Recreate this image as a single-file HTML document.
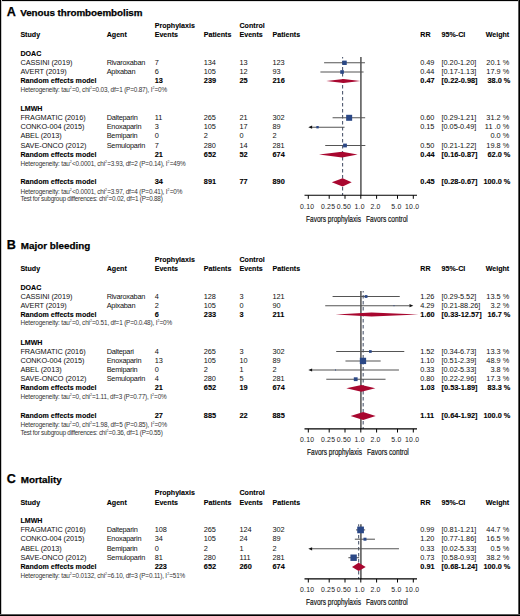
<!DOCTYPE html>
<html><head><meta charset="utf-8"><style>
html,body{margin:0;padding:0;background:#fff;}
body{width:520px;height:616px;position:relative;overflow:hidden;font-family:"Liberation Sans",sans-serif;color:#000;}
.t{position:absolute;white-space:nowrap;line-height:1;}
.r{letter-spacing:-0.05px;}
.t sup{font-size:0.55em;vertical-align:0;position:relative;top:-0.95em;line-height:0;margin:0 0.3px 0 0.2px;}
#b{position:absolute;left:0;top:0;width:520px;height:616px;box-sizing:border-box;border:1px solid #000;border-right-width:2px;border-bottom-width:2px;}
svg{position:absolute;left:0;top:0;}
</style></head><body>
<div style="position:absolute;left:0;top:0;width:520px;height:1px;background:#000"></div>
<div style="position:absolute;left:0;top:1px;width:520px;height:1px;background:#e2e2e2"></div>
<div style="position:absolute;left:0;top:0;width:1px;height:616px;background:#000"></div>
<div style="position:absolute;left:1px;top:0;width:1px;height:616px;background:#c8c8c8"></div>
<div style="position:absolute;left:519px;top:0;width:1px;height:616px;background:#000"></div>
<div style="position:absolute;left:518px;top:0;width:1px;height:616px;background:#5a5a5a"></div>
<div style="position:absolute;left:0;top:615px;width:520px;height:1px;background:#000"></div>
<div style="position:absolute;left:0;top:614px;width:520px;height:1px;background:#5a5a5a"></div>
<svg width="520" height="616" viewBox="0 0 520 616">
<line x1="360.9" y1="57.1" x2="360.9" y2="195.2" stroke="#5c5c5c" stroke-width="1.6"/>
<line x1="342.59" y1="57.1" x2="342.59" y2="195.2" stroke="#4f5a70" stroke-width="1.1" stroke-dasharray="3.4 2.6" stroke-dashoffset="2"/>
<line x1="324.10" y1="62.80" x2="364.96" y2="62.80" stroke="#555" stroke-width="1.05"/>
<rect x="342.34" y="60.60" width="4.4" height="4.4" fill="#2b4886"/>
<line x1="320.40" y1="72.00" x2="363.59" y2="72.00" stroke="#555" stroke-width="1.05"/>
<rect x="340.28" y="70.20" width="3.6" height="3.6" fill="#2b4886"/>
<polygon points="326.28,80.90 343.59,78.90 360.34,80.90 343.59,82.90" fill="#a8072f"/>
<line x1="332.58" y1="117.80" x2="365.15" y2="117.80" stroke="#555" stroke-width="1.05"/>
<rect x="346.15" y="114.80" width="6.0" height="6.0" fill="#2b4886"/>
<line x1="311.90" y1="127.20" x2="344.54" y2="127.20" stroke="#555" stroke-width="1.05"/>
<polygon points="308.30,127.20 312.10,125.60 312.10,128.80" fill="#111"/>
<rect x="316.34" y="126.00" width="2.4" height="2.4" fill="#2b4886"/>
<line x1="325.22" y1="145.50" x2="365.33" y2="145.50" stroke="#555" stroke-width="1.05"/>
<rect x="343.10" y="143.60" width="3.8" height="3.8" fill="#2b4886"/>
<polygon points="319.02,154.60 342.08,151.70 357.62,154.60 342.08,157.50" fill="#a8072f"/>
<polygon points="331.78,182.30 342.59,178.20 351.67,182.30 342.59,186.40" fill="#a8072f"/>
<line x1="304.5" y1="195.2" x2="417" y2="195.2" stroke="#000" stroke-width="1.1"/>
<line x1="308.30" y1="195.2" x2="308.30" y2="198.79999999999998" stroke="#000" stroke-width="1"/>
<line x1="329.19" y1="195.2" x2="329.19" y2="198.79999999999998" stroke="#000" stroke-width="1"/>
<line x1="345.00" y1="195.2" x2="345.00" y2="198.79999999999998" stroke="#000" stroke-width="1"/>
<line x1="360.80" y1="195.2" x2="360.80" y2="198.79999999999998" stroke="#000" stroke-width="1"/>
<line x1="376.60" y1="195.2" x2="376.60" y2="198.79999999999998" stroke="#000" stroke-width="1"/>
<line x1="397.50" y1="195.2" x2="397.50" y2="198.79999999999998" stroke="#000" stroke-width="1"/>
<line x1="413.30" y1="195.2" x2="413.30" y2="198.79999999999998" stroke="#000" stroke-width="1"/>
<line x1="360.9" y1="291.0" x2="360.9" y2="428.9" stroke="#5c5c5c" stroke-width="1.6"/>
<line x1="363.18" y1="291.0" x2="363.18" y2="428.9" stroke="#4f5a70" stroke-width="1.1" stroke-dasharray="3.4 2.6" stroke-dashoffset="1.9"/>
<line x1="332.58" y1="296.50" x2="399.75" y2="296.50" stroke="#555" stroke-width="1.05"/>
<rect x="364.67" y="295.10" width="2.8" height="2.8" fill="#2b4886"/>
<line x1="325.22" y1="305.70" x2="409.70" y2="305.70" stroke="#555" stroke-width="1.05"/>
<polygon points="413.30,305.70 409.50,304.10 409.50,307.30" fill="#111"/>
<rect x="393.50" y="305.20" width="1.0" height="1.0" fill="#2b4886"/>
<polygon points="335.52,314.60 371.52,312.60 418.52,314.60 371.52,316.60" fill="#a8072f"/>
<line x1="336.20" y1="351.50" x2="404.27" y2="351.50" stroke="#555" stroke-width="1.05"/>
<rect x="369.00" y="350.15" width="2.7" height="2.7" fill="#2b4886"/>
<line x1="345.45" y1="360.90" x2="380.67" y2="360.90" stroke="#555" stroke-width="1.05"/>
<rect x="359.82" y="357.75" width="6.3" height="6.3" fill="#2b4886"/>
<line x1="311.90" y1="370.00" x2="398.95" y2="370.00" stroke="#555" stroke-width="1.05"/>
<polygon points="308.30,370.00 312.10,368.40 312.10,371.60" fill="#111"/>
<rect x="335.02" y="369.50" width="1.0" height="1.0" fill="#2b4886"/>
<line x1="326.28" y1="379.20" x2="385.54" y2="379.20" stroke="#555" stroke-width="1.05"/>
<rect x="353.81" y="377.30" width="3.8" height="3.8" fill="#2b4886"/>
<polygon points="346.32,388.30 361.47,384.95 375.31,388.30 361.47,391.65" fill="#a8072f"/>
<polygon points="350.62,416.00 363.18,412.00 375.67,416.00 363.18,420.00" fill="#a8072f"/>
<line x1="304.5" y1="428.9" x2="417" y2="428.9" stroke="#000" stroke-width="1.1"/>
<line x1="308.30" y1="428.9" x2="308.30" y2="432.5" stroke="#000" stroke-width="1"/>
<line x1="329.19" y1="428.9" x2="329.19" y2="432.5" stroke="#000" stroke-width="1"/>
<line x1="345.00" y1="428.9" x2="345.00" y2="432.5" stroke="#000" stroke-width="1"/>
<line x1="360.80" y1="428.9" x2="360.80" y2="432.5" stroke="#000" stroke-width="1"/>
<line x1="376.60" y1="428.9" x2="376.60" y2="432.5" stroke="#000" stroke-width="1"/>
<line x1="397.50" y1="428.9" x2="397.50" y2="432.5" stroke="#000" stroke-width="1"/>
<line x1="413.30" y1="428.9" x2="413.30" y2="432.5" stroke="#000" stroke-width="1"/>
<line x1="360.9" y1="524.3" x2="360.9" y2="578.9" stroke="#5c5c5c" stroke-width="1.6"/>
<line x1="358.65" y1="524.3" x2="358.65" y2="578.9" stroke="#4f5a70" stroke-width="1.1" stroke-dasharray="3.4 2.6" stroke-dashoffset="1.3"/>
<line x1="356.00" y1="529.90" x2="365.15" y2="529.90" stroke="#555" stroke-width="1.05"/>
<rect x="357.22" y="526.55" width="6.7" height="6.7" fill="#2b4886"/>
<line x1="354.84" y1="539.20" x2="374.95" y2="539.20" stroke="#555" stroke-width="1.05"/>
<rect x="363.46" y="537.70" width="3.0" height="3.0" fill="#2b4886"/>
<line x1="311.90" y1="548.80" x2="398.95" y2="548.80" stroke="#555" stroke-width="1.05"/>
<polygon points="308.30,548.80 312.10,547.20 312.10,550.40" fill="#111"/>
<line x1="348.38" y1="557.70" x2="359.15" y2="557.70" stroke="#555" stroke-width="1.05"/>
<rect x="350.42" y="554.50" width="6.4" height="6.4" fill="#2b4886"/>
<polygon points="352.01,566.90 358.65,562.75 365.70,566.90 358.65,571.05" fill="#a8072f"/>
<line x1="304.5" y1="578.9" x2="417" y2="578.9" stroke="#000" stroke-width="1.1"/>
<line x1="308.30" y1="578.9" x2="308.30" y2="582.5" stroke="#000" stroke-width="1"/>
<line x1="329.19" y1="578.9" x2="329.19" y2="582.5" stroke="#000" stroke-width="1"/>
<line x1="345.00" y1="578.9" x2="345.00" y2="582.5" stroke="#000" stroke-width="1"/>
<line x1="360.80" y1="578.9" x2="360.80" y2="582.5" stroke="#000" stroke-width="1"/>
<line x1="376.60" y1="578.9" x2="376.60" y2="582.5" stroke="#000" stroke-width="1"/>
<line x1="397.50" y1="578.9" x2="397.50" y2="582.5" stroke="#000" stroke-width="1"/>
<line x1="413.30" y1="578.9" x2="413.30" y2="582.5" stroke="#000" stroke-width="1"/>
</svg>
<div class="t" style="top:6.00px;font-size:12.6px;font-weight:bold;-webkit-text-stroke:0.25px currentColor;left:6.80px;">A</div>
<div class="t" style="top:8.00px;font-size:9.85px;font-weight:bold;-webkit-text-stroke:0.25px currentColor;left:20.20px;letter-spacing:-0.06px;">Venous thromboembolism</div>
<div class="t" style="top:23.00px;font-size:7.1px;font-weight:bold;-webkit-text-stroke:0.1px currentColor;left:154.70px;">Prophylaxis</div>
<div class="t" style="top:23.00px;font-size:7.1px;font-weight:bold;-webkit-text-stroke:0.1px currentColor;left:239.50px;">Control</div>
<div class="t" style="top:32.00px;font-size:7.1px;font-weight:bold;-webkit-text-stroke:0.1px currentColor;left:20.40px;">Study</div>
<div class="t" style="top:32.00px;font-size:7.1px;font-weight:bold;-webkit-text-stroke:0.1px currentColor;left:106.70px;">Agent</div>
<div class="t" style="top:32.00px;font-size:7.1px;font-weight:bold;-webkit-text-stroke:0.1px currentColor;left:154.70px;">Events</div>
<div class="t" style="top:32.00px;font-size:7.1px;font-weight:bold;-webkit-text-stroke:0.1px currentColor;left:203.80px;">Patients</div>
<div class="t" style="top:32.00px;font-size:7.1px;font-weight:bold;-webkit-text-stroke:0.1px currentColor;left:239.50px;">Events</div>
<div class="t" style="top:32.00px;font-size:7.1px;font-weight:bold;-webkit-text-stroke:0.1px currentColor;left:272.50px;">Patients</div>
<div class="t" style="top:32.00px;font-size:7.1px;font-weight:bold;-webkit-text-stroke:0.1px currentColor;left:420.30px;">RR</div>
<div class="t" style="top:32.00px;font-size:7.1px;font-weight:bold;-webkit-text-stroke:0.1px currentColor;left:441.60px;">95%-CI</div>
<div class="t" style="top:32.00px;font-size:7.1px;font-weight:bold;-webkit-text-stroke:0.1px currentColor;right:10.80px;">Weight</div>
<div class="t" style="top:51.00px;font-size:7.1px;font-weight:bold;-webkit-text-stroke:0.1px currentColor;left:20.40px;">DOAC</div>
<div class="t" style="top:59.00px;font-size:7.35px;color:#111;left:20.40px;letter-spacing:-0.05px;">CASSINI (2019)</div>
<div class="t" style="top:59.00px;font-size:7.35px;color:#111;left:106.70px;letter-spacing:-0.26px;">Rivaroxaban</div>
<div class="t" style="top:59.00px;font-size:7.35px;color:#111;left:154.70px;letter-spacing:-0.05px;">7</div>
<div class="t" style="top:59.00px;font-size:7.35px;color:#111;left:203.80px;letter-spacing:-0.05px;">134</div>
<div class="t" style="top:59.00px;font-size:7.35px;color:#111;left:239.50px;letter-spacing:-0.05px;">13</div>
<div class="t" style="top:59.00px;font-size:7.35px;color:#111;left:272.50px;letter-spacing:-0.05px;">123</div>
<div class="t" style="top:59.00px;font-size:7.35px;color:#111;left:420.30px;letter-spacing:-0.05px;">0.49</div>
<div class="t" style="top:59.00px;font-size:7.35px;color:#111;left:441.60px;letter-spacing:-0.05px;">[0.20-1.20]</div>
<div class="t" style="top:59.00px;font-size:7.35px;color:#111;right:10.80px;">20.1 %</div>
<div class="t" style="top:68.00px;font-size:7.35px;color:#111;left:20.40px;letter-spacing:-0.05px;">AVERT (2019)</div>
<div class="t" style="top:68.00px;font-size:7.35px;color:#111;left:106.70px;letter-spacing:-0.26px;">Apixaban</div>
<div class="t" style="top:68.00px;font-size:7.35px;color:#111;left:154.70px;letter-spacing:-0.05px;">6</div>
<div class="t" style="top:68.00px;font-size:7.35px;color:#111;left:203.80px;letter-spacing:-0.05px;">105</div>
<div class="t" style="top:68.00px;font-size:7.35px;color:#111;left:239.50px;letter-spacing:-0.05px;">12</div>
<div class="t" style="top:68.00px;font-size:7.35px;color:#111;left:272.50px;letter-spacing:-0.05px;">93</div>
<div class="t" style="top:68.00px;font-size:7.35px;color:#111;left:420.30px;letter-spacing:-0.05px;">0.44</div>
<div class="t" style="top:68.00px;font-size:7.35px;color:#111;left:441.60px;letter-spacing:-0.05px;">[0.17-1.13]</div>
<div class="t" style="top:68.00px;font-size:7.35px;color:#111;right:10.80px;">17.9 %</div>
<div class="t" style="top:78.00px;font-size:7.1px;font-weight:bold;-webkit-text-stroke:0.1px currentColor;left:20.40px;">Random effects model</div>
<div class="t" style="top:77.00px;font-size:7.35px;font-weight:bold;-webkit-text-stroke:0.1px currentColor;left:154.70px;">13</div>
<div class="t" style="top:77.00px;font-size:7.35px;font-weight:bold;-webkit-text-stroke:0.1px currentColor;left:203.80px;">239</div>
<div class="t" style="top:77.00px;font-size:7.35px;font-weight:bold;-webkit-text-stroke:0.1px currentColor;left:239.50px;">25</div>
<div class="t" style="top:77.00px;font-size:7.35px;font-weight:bold;-webkit-text-stroke:0.1px currentColor;left:272.50px;">216</div>
<div class="t" style="top:77.00px;font-size:7.35px;font-weight:bold;-webkit-text-stroke:0.1px currentColor;left:420.30px;">0.47</div>
<div class="t" style="top:77.00px;font-size:7.35px;font-weight:bold;-webkit-text-stroke:0.1px currentColor;left:441.60px;">[0.22-0.98]</div>
<div class="t" style="top:77.00px;font-size:7.35px;font-weight:bold;-webkit-text-stroke:0.1px currentColor;right:9.60px;">38.0 %</div>
<div class="t" style="top:87.00px;font-size:6.4px;color:#333;left:20.50px;letter-spacing:-0.17px;">Heterogeneity: tau<sup>2</sup>=0, chi<sup>2</sup>=0.03, df=1 (P=0.87), I<sup>2</sup>=0%</div>
<div class="t" style="top:106.00px;font-size:7.1px;font-weight:bold;-webkit-text-stroke:0.1px currentColor;left:20.40px;">LMWH</div>
<div class="t" style="top:114.00px;font-size:7.35px;color:#111;left:20.40px;letter-spacing:-0.05px;">FRAGMATIC (2016)</div>
<div class="t" style="top:114.00px;font-size:7.35px;color:#111;left:106.70px;letter-spacing:-0.26px;">Dalteparin</div>
<div class="t" style="top:114.00px;font-size:7.35px;color:#111;left:154.70px;letter-spacing:-0.05px;">11</div>
<div class="t" style="top:114.00px;font-size:7.35px;color:#111;left:203.80px;letter-spacing:-0.05px;">265</div>
<div class="t" style="top:114.00px;font-size:7.35px;color:#111;left:239.50px;letter-spacing:-0.05px;">21</div>
<div class="t" style="top:114.00px;font-size:7.35px;color:#111;left:272.50px;letter-spacing:-0.05px;">302</div>
<div class="t" style="top:114.00px;font-size:7.35px;color:#111;left:420.30px;letter-spacing:-0.05px;">0.60</div>
<div class="t" style="top:114.00px;font-size:7.35px;color:#111;left:441.60px;letter-spacing:-0.05px;">[0.29-1.21]</div>
<div class="t" style="top:114.00px;font-size:7.35px;color:#111;right:10.80px;">31.2 %</div>
<div class="t" style="top:123.00px;font-size:7.35px;color:#111;left:20.40px;letter-spacing:-0.05px;">CONKO-004 (2015)</div>
<div class="t" style="top:123.00px;font-size:7.35px;color:#111;left:106.70px;letter-spacing:-0.26px;">Enoxaparin</div>
<div class="t" style="top:123.00px;font-size:7.35px;color:#111;left:154.70px;letter-spacing:-0.05px;">3</div>
<div class="t" style="top:123.00px;font-size:7.35px;color:#111;left:203.80px;letter-spacing:-0.05px;">105</div>
<div class="t" style="top:123.00px;font-size:7.35px;color:#111;left:239.50px;letter-spacing:-0.05px;">17</div>
<div class="t" style="top:123.00px;font-size:7.35px;color:#111;left:272.50px;letter-spacing:-0.05px;">89</div>
<div class="t" style="top:123.00px;font-size:7.35px;color:#111;left:420.30px;letter-spacing:-0.05px;">0.15</div>
<div class="t" style="top:123.00px;font-size:7.35px;color:#111;left:441.60px;letter-spacing:-0.05px;">[0.05-0.49]</div>
<div class="t" style="top:123.00px;font-size:7.35px;color:#111;right:10.80px;">11 .0 %</div>
<div class="t" style="top:132.00px;font-size:7.35px;color:#111;left:20.40px;letter-spacing:-0.05px;">ABEL (2013)</div>
<div class="t" style="top:132.00px;font-size:7.35px;color:#111;left:106.70px;letter-spacing:-0.26px;">Bemiparin</div>
<div class="t" style="top:132.00px;font-size:7.35px;color:#111;left:154.70px;letter-spacing:-0.05px;">0</div>
<div class="t" style="top:132.00px;font-size:7.35px;color:#111;left:203.80px;letter-spacing:-0.05px;">2</div>
<div class="t" style="top:132.00px;font-size:7.35px;color:#111;left:239.50px;letter-spacing:-0.05px;">0</div>
<div class="t" style="top:132.00px;font-size:7.35px;color:#111;left:272.50px;letter-spacing:-0.05px;">2</div>
<div class="t" style="top:132.00px;font-size:7.35px;color:#111;right:10.80px;">0.0 %</div>
<div class="t" style="top:142.00px;font-size:7.35px;color:#111;left:20.40px;letter-spacing:-0.05px;">SAVE-ONCO (2012)</div>
<div class="t" style="top:142.00px;font-size:7.35px;color:#111;left:106.70px;letter-spacing:-0.26px;">Semuloparin</div>
<div class="t" style="top:142.00px;font-size:7.35px;color:#111;left:154.70px;letter-spacing:-0.05px;">7</div>
<div class="t" style="top:142.00px;font-size:7.35px;color:#111;left:203.80px;letter-spacing:-0.05px;">280</div>
<div class="t" style="top:142.00px;font-size:7.35px;color:#111;left:239.50px;letter-spacing:-0.05px;">14</div>
<div class="t" style="top:142.00px;font-size:7.35px;color:#111;left:272.50px;letter-spacing:-0.05px;">281</div>
<div class="t" style="top:142.00px;font-size:7.35px;color:#111;left:420.30px;letter-spacing:-0.05px;">0.50</div>
<div class="t" style="top:142.00px;font-size:7.35px;color:#111;left:441.60px;letter-spacing:-0.05px;">[0.21-1.22]</div>
<div class="t" style="top:142.00px;font-size:7.35px;color:#111;right:10.80px;">19.8 %</div>
<div class="t" style="top:152.00px;font-size:7.1px;font-weight:bold;-webkit-text-stroke:0.1px currentColor;left:20.40px;">Random effects model</div>
<div class="t" style="top:151.00px;font-size:7.35px;font-weight:bold;-webkit-text-stroke:0.1px currentColor;left:154.70px;">21</div>
<div class="t" style="top:151.00px;font-size:7.35px;font-weight:bold;-webkit-text-stroke:0.1px currentColor;left:203.80px;">652</div>
<div class="t" style="top:151.00px;font-size:7.35px;font-weight:bold;-webkit-text-stroke:0.1px currentColor;left:239.50px;">52</div>
<div class="t" style="top:151.00px;font-size:7.35px;font-weight:bold;-webkit-text-stroke:0.1px currentColor;left:272.50px;">674</div>
<div class="t" style="top:151.00px;font-size:7.35px;font-weight:bold;-webkit-text-stroke:0.1px currentColor;left:420.30px;">0.44</div>
<div class="t" style="top:151.00px;font-size:7.35px;font-weight:bold;-webkit-text-stroke:0.1px currentColor;left:441.60px;">[0.16-0.87]</div>
<div class="t" style="top:151.00px;font-size:7.35px;font-weight:bold;-webkit-text-stroke:0.1px currentColor;right:9.60px;">62.0 %</div>
<div class="t" style="top:161.00px;font-size:6.4px;color:#333;left:20.50px;letter-spacing:-0.17px;">Heterogeneity: tau<sup>2</sup>&lt;0.0001, chi<sup>2</sup>=3.93, df=2 (P=0.14), I<sup>2</sup>=49%</div>
<div class="t" style="top:179.00px;font-size:7.1px;font-weight:bold;-webkit-text-stroke:0.1px currentColor;left:20.40px;">Random effects model</div>
<div class="t" style="top:178.00px;font-size:7.35px;font-weight:bold;-webkit-text-stroke:0.1px currentColor;left:154.70px;">34</div>
<div class="t" style="top:178.00px;font-size:7.35px;font-weight:bold;-webkit-text-stroke:0.1px currentColor;left:203.80px;">891</div>
<div class="t" style="top:178.00px;font-size:7.35px;font-weight:bold;-webkit-text-stroke:0.1px currentColor;left:239.50px;">77</div>
<div class="t" style="top:178.00px;font-size:7.35px;font-weight:bold;-webkit-text-stroke:0.1px currentColor;left:272.50px;">890</div>
<div class="t" style="top:178.00px;font-size:7.35px;font-weight:bold;-webkit-text-stroke:0.1px currentColor;left:420.30px;">0.45</div>
<div class="t" style="top:178.00px;font-size:7.35px;font-weight:bold;-webkit-text-stroke:0.1px currentColor;left:441.60px;">[0.28-0.67]</div>
<div class="t" style="top:178.00px;font-size:7.35px;font-weight:bold;-webkit-text-stroke:0.1px currentColor;right:9.60px;">100.0 %</div>
<div class="t" style="top:189.00px;font-size:6.4px;color:#333;left:20.50px;letter-spacing:-0.17px;">Heterogeneity: tau<sup>2</sup>&lt;0.0001, chi<sup>2</sup>=3.97, df=4 (P=0.41), I<sup>2</sup>=0%</div>
<div class="t" style="top:196.00px;font-size:6.4px;color:#333;left:20.50px;letter-spacing:-0.24px;">Test for subgroup differences: chi<sup>2</sup>=0.02, df=1 (P=0.88)</div>
<div class="t" style="top:204.00px;font-size:6.9px;color:#1a1a1a;left:307.20px;transform:translateX(-50%);letter-spacing:0.22px;">0.10</div>
<div class="t" style="top:204.00px;font-size:6.9px;color:#1a1a1a;left:328.09px;transform:translateX(-50%);letter-spacing:0.22px;">0.25</div>
<div class="t" style="top:204.00px;font-size:6.9px;color:#1a1a1a;left:343.90px;transform:translateX(-50%);letter-spacing:0.22px;">0.50</div>
<div class="t" style="top:204.00px;font-size:6.9px;color:#1a1a1a;left:359.70px;transform:translateX(-50%);letter-spacing:0.22px;">1.0</div>
<div class="t" style="top:204.00px;font-size:6.9px;color:#1a1a1a;left:375.50px;transform:translateX(-50%);letter-spacing:0.22px;">2.0</div>
<div class="t" style="top:204.00px;font-size:6.9px;color:#1a1a1a;left:396.40px;transform:translateX(-50%);letter-spacing:0.22px;">5.0</div>
<div class="t" style="top:204.00px;font-size:6.9px;color:#1a1a1a;left:412.20px;transform:translateX(-50%);letter-spacing:0.22px;">10.0</div>
<div class="t" style="top:214.00px;font-size:9.5px;color:#111;left:306.10px;transform-origin:0 0;transform:scaleX(0.69);-webkit-text-stroke:0.2px #111;">Favors prophylaxis</div>
<div class="t" style="top:214.00px;font-size:9.5px;color:#111;left:365.50px;transform-origin:0 0;transform:scaleX(0.695);-webkit-text-stroke:0.2px #111;">Favors control</div>
<div class="t" style="top:239.00px;font-size:12.6px;font-weight:bold;-webkit-text-stroke:0.25px currentColor;left:6.80px;">B</div>
<div class="t" style="top:241.00px;font-size:9.85px;font-weight:bold;-webkit-text-stroke:0.25px currentColor;left:20.80px;">Major bleeding</div>
<div class="t" style="top:257.00px;font-size:7.1px;font-weight:bold;-webkit-text-stroke:0.1px currentColor;left:154.70px;">Prophylaxis</div>
<div class="t" style="top:257.00px;font-size:7.1px;font-weight:bold;-webkit-text-stroke:0.1px currentColor;left:239.50px;">Control</div>
<div class="t" style="top:266.00px;font-size:7.1px;font-weight:bold;-webkit-text-stroke:0.1px currentColor;left:20.40px;">Study</div>
<div class="t" style="top:266.00px;font-size:7.1px;font-weight:bold;-webkit-text-stroke:0.1px currentColor;left:106.70px;">Agent</div>
<div class="t" style="top:266.00px;font-size:7.1px;font-weight:bold;-webkit-text-stroke:0.1px currentColor;left:154.70px;">Events</div>
<div class="t" style="top:266.00px;font-size:7.1px;font-weight:bold;-webkit-text-stroke:0.1px currentColor;left:203.80px;">Patients</div>
<div class="t" style="top:266.00px;font-size:7.1px;font-weight:bold;-webkit-text-stroke:0.1px currentColor;left:239.50px;">Events</div>
<div class="t" style="top:266.00px;font-size:7.1px;font-weight:bold;-webkit-text-stroke:0.1px currentColor;left:272.50px;">Patients</div>
<div class="t" style="top:266.00px;font-size:7.1px;font-weight:bold;-webkit-text-stroke:0.1px currentColor;left:420.30px;">RR</div>
<div class="t" style="top:266.00px;font-size:7.1px;font-weight:bold;-webkit-text-stroke:0.1px currentColor;left:441.60px;">95%-CI</div>
<div class="t" style="top:266.00px;font-size:7.1px;font-weight:bold;-webkit-text-stroke:0.1px currentColor;right:10.80px;">Weight</div>
<div class="t" style="top:285.00px;font-size:7.1px;font-weight:bold;-webkit-text-stroke:0.1px currentColor;left:20.40px;">DOAC</div>
<div class="t" style="top:293.00px;font-size:7.35px;color:#111;left:20.40px;letter-spacing:-0.05px;">CASSINI (2019)</div>
<div class="t" style="top:293.00px;font-size:7.35px;color:#111;left:106.70px;letter-spacing:-0.26px;">Rivaroxaban</div>
<div class="t" style="top:293.00px;font-size:7.35px;color:#111;left:154.70px;letter-spacing:-0.05px;">4</div>
<div class="t" style="top:293.00px;font-size:7.35px;color:#111;left:203.80px;letter-spacing:-0.05px;">128</div>
<div class="t" style="top:293.00px;font-size:7.35px;color:#111;left:239.50px;letter-spacing:-0.05px;">3</div>
<div class="t" style="top:293.00px;font-size:7.35px;color:#111;left:272.50px;letter-spacing:-0.05px;">121</div>
<div class="t" style="top:293.00px;font-size:7.35px;color:#111;left:420.30px;letter-spacing:-0.05px;">1.26</div>
<div class="t" style="top:293.00px;font-size:7.35px;color:#111;left:441.60px;letter-spacing:-0.05px;">[0.29-5.52]</div>
<div class="t" style="top:293.00px;font-size:7.35px;color:#111;right:10.80px;">13.5 %</div>
<div class="t" style="top:302.00px;font-size:7.35px;color:#111;left:20.40px;letter-spacing:-0.05px;">AVERT (2019)</div>
<div class="t" style="top:302.00px;font-size:7.35px;color:#111;left:106.70px;letter-spacing:-0.26px;">Apixaban</div>
<div class="t" style="top:302.00px;font-size:7.35px;color:#111;left:154.70px;letter-spacing:-0.05px;">2</div>
<div class="t" style="top:302.00px;font-size:7.35px;color:#111;left:203.80px;letter-spacing:-0.05px;">105</div>
<div class="t" style="top:302.00px;font-size:7.35px;color:#111;left:239.50px;letter-spacing:-0.05px;">0</div>
<div class="t" style="top:302.00px;font-size:7.35px;color:#111;left:272.50px;letter-spacing:-0.05px;">90</div>
<div class="t" style="top:302.00px;font-size:7.35px;color:#111;left:420.30px;letter-spacing:-0.05px;">4.29</div>
<div class="t" style="top:302.00px;font-size:7.35px;color:#111;left:441.60px;letter-spacing:-0.05px;">[0.21-88.26]</div>
<div class="t" style="top:302.00px;font-size:7.35px;color:#111;right:10.80px;">3.2 %</div>
<div class="t" style="top:312.00px;font-size:7.1px;font-weight:bold;-webkit-text-stroke:0.1px currentColor;left:20.40px;">Random effects model</div>
<div class="t" style="top:311.00px;font-size:7.35px;font-weight:bold;-webkit-text-stroke:0.1px currentColor;left:154.70px;">6</div>
<div class="t" style="top:311.00px;font-size:7.35px;font-weight:bold;-webkit-text-stroke:0.1px currentColor;left:203.80px;">233</div>
<div class="t" style="top:311.00px;font-size:7.35px;font-weight:bold;-webkit-text-stroke:0.1px currentColor;left:239.50px;">3</div>
<div class="t" style="top:311.00px;font-size:7.35px;font-weight:bold;-webkit-text-stroke:0.1px currentColor;left:272.50px;">211</div>
<div class="t" style="top:311.00px;font-size:7.35px;font-weight:bold;-webkit-text-stroke:0.1px currentColor;left:420.30px;">1.60</div>
<div class="t" style="top:311.00px;font-size:7.35px;font-weight:bold;-webkit-text-stroke:0.1px currentColor;left:441.60px;">[0.33-12.57]</div>
<div class="t" style="top:311.00px;font-size:7.35px;font-weight:bold;-webkit-text-stroke:0.1px currentColor;right:9.60px;">16.7 %</div>
<div class="t" style="top:320.00px;font-size:6.4px;color:#333;left:20.50px;letter-spacing:-0.17px;">Heterogeneity: tau<sup>2</sup>=0, chi<sup>2</sup>=0.51, df=1 (P=0.0.48), I<sup>2</sup>=0%</div>
<div class="t" style="top:340.00px;font-size:7.1px;font-weight:bold;-webkit-text-stroke:0.1px currentColor;left:20.40px;">LMWH</div>
<div class="t" style="top:348.00px;font-size:7.35px;color:#111;left:20.40px;letter-spacing:-0.05px;">FRAGMATIC (2016)</div>
<div class="t" style="top:348.00px;font-size:7.35px;color:#111;left:106.70px;letter-spacing:-0.26px;">Daltepari</div>
<div class="t" style="top:348.00px;font-size:7.35px;color:#111;left:154.70px;letter-spacing:-0.05px;">4</div>
<div class="t" style="top:348.00px;font-size:7.35px;color:#111;left:203.80px;letter-spacing:-0.05px;">265</div>
<div class="t" style="top:348.00px;font-size:7.35px;color:#111;left:239.50px;letter-spacing:-0.05px;">3</div>
<div class="t" style="top:348.00px;font-size:7.35px;color:#111;left:272.50px;letter-spacing:-0.05px;">302</div>
<div class="t" style="top:348.00px;font-size:7.35px;color:#111;left:420.30px;letter-spacing:-0.05px;">1.52</div>
<div class="t" style="top:348.00px;font-size:7.35px;color:#111;left:441.60px;letter-spacing:-0.05px;">[0.34-6.73]</div>
<div class="t" style="top:348.00px;font-size:7.35px;color:#111;right:10.80px;">13.3 %</div>
<div class="t" style="top:357.00px;font-size:7.35px;color:#111;left:20.40px;letter-spacing:-0.05px;">CONKO-004 (2015)</div>
<div class="t" style="top:357.00px;font-size:7.35px;color:#111;left:106.70px;letter-spacing:-0.26px;">Enoxaparin</div>
<div class="t" style="top:357.00px;font-size:7.35px;color:#111;left:154.70px;letter-spacing:-0.05px;">13</div>
<div class="t" style="top:357.00px;font-size:7.35px;color:#111;left:203.80px;letter-spacing:-0.05px;">105</div>
<div class="t" style="top:357.00px;font-size:7.35px;color:#111;left:239.50px;letter-spacing:-0.05px;">10</div>
<div class="t" style="top:357.00px;font-size:7.35px;color:#111;left:272.50px;letter-spacing:-0.05px;">89</div>
<div class="t" style="top:357.00px;font-size:7.35px;color:#111;left:420.30px;letter-spacing:-0.05px;">1.10</div>
<div class="t" style="top:357.00px;font-size:7.35px;color:#111;left:441.60px;letter-spacing:-0.05px;">[0.51-2.39]</div>
<div class="t" style="top:357.00px;font-size:7.35px;color:#111;right:10.80px;">48.9 %</div>
<div class="t" style="top:366.00px;font-size:7.35px;color:#111;left:20.40px;letter-spacing:-0.05px;">ABEL (2013)</div>
<div class="t" style="top:366.00px;font-size:7.35px;color:#111;left:106.70px;letter-spacing:-0.26px;">Bemiparin</div>
<div class="t" style="top:366.00px;font-size:7.35px;color:#111;left:154.70px;letter-spacing:-0.05px;">0</div>
<div class="t" style="top:366.00px;font-size:7.35px;color:#111;left:203.80px;letter-spacing:-0.05px;">2</div>
<div class="t" style="top:366.00px;font-size:7.35px;color:#111;left:239.50px;letter-spacing:-0.05px;">1</div>
<div class="t" style="top:366.00px;font-size:7.35px;color:#111;left:272.50px;letter-spacing:-0.05px;">2</div>
<div class="t" style="top:366.00px;font-size:7.35px;color:#111;left:420.30px;letter-spacing:-0.05px;">0.33</div>
<div class="t" style="top:366.00px;font-size:7.35px;color:#111;left:441.60px;letter-spacing:-0.05px;">[0.02-5.33]</div>
<div class="t" style="top:366.00px;font-size:7.35px;color:#111;right:10.80px;">3.8 %</div>
<div class="t" style="top:375.00px;font-size:7.35px;color:#111;left:20.40px;letter-spacing:-0.05px;">SAVE-ONCO (2012)</div>
<div class="t" style="top:375.00px;font-size:7.35px;color:#111;left:106.70px;letter-spacing:-0.26px;">Semuloparin</div>
<div class="t" style="top:375.00px;font-size:7.35px;color:#111;left:154.70px;letter-spacing:-0.05px;">4</div>
<div class="t" style="top:375.00px;font-size:7.35px;color:#111;left:203.80px;letter-spacing:-0.05px;">280</div>
<div class="t" style="top:375.00px;font-size:7.35px;color:#111;left:239.50px;letter-spacing:-0.05px;">5</div>
<div class="t" style="top:375.00px;font-size:7.35px;color:#111;left:272.50px;letter-spacing:-0.05px;">281</div>
<div class="t" style="top:375.00px;font-size:7.35px;color:#111;left:420.30px;letter-spacing:-0.05px;">0.80</div>
<div class="t" style="top:375.00px;font-size:7.35px;color:#111;left:441.60px;letter-spacing:-0.05px;">[0.22-2.96]</div>
<div class="t" style="top:375.00px;font-size:7.35px;color:#111;right:10.80px;">17.3 %</div>
<div class="t" style="top:385.00px;font-size:7.1px;font-weight:bold;-webkit-text-stroke:0.1px currentColor;left:20.40px;">Random effects model</div>
<div class="t" style="top:384.00px;font-size:7.35px;font-weight:bold;-webkit-text-stroke:0.1px currentColor;left:154.70px;">21</div>
<div class="t" style="top:384.00px;font-size:7.35px;font-weight:bold;-webkit-text-stroke:0.1px currentColor;left:203.80px;">652</div>
<div class="t" style="top:384.00px;font-size:7.35px;font-weight:bold;-webkit-text-stroke:0.1px currentColor;left:239.50px;">19</div>
<div class="t" style="top:384.00px;font-size:7.35px;font-weight:bold;-webkit-text-stroke:0.1px currentColor;left:272.50px;">674</div>
<div class="t" style="top:384.00px;font-size:7.35px;font-weight:bold;-webkit-text-stroke:0.1px currentColor;left:420.30px;">1.03</div>
<div class="t" style="top:384.00px;font-size:7.35px;font-weight:bold;-webkit-text-stroke:0.1px currentColor;left:441.60px;">[0.53-1.89]</div>
<div class="t" style="top:384.00px;font-size:7.35px;font-weight:bold;-webkit-text-stroke:0.1px currentColor;right:9.60px;">83.3 %</div>
<div class="t" style="top:394.00px;font-size:6.4px;color:#333;left:20.50px;letter-spacing:-0.17px;">Heterogeneity: tau<sup>2</sup>=0, chi<sup>2</sup>=1.11, df=3 (P=0.77), I<sup>2</sup>=0%</div>
<div class="t" style="top:413.00px;font-size:7.1px;font-weight:bold;-webkit-text-stroke:0.1px currentColor;left:20.40px;">Random effects model</div>
<div class="t" style="top:412.00px;font-size:7.35px;font-weight:bold;-webkit-text-stroke:0.1px currentColor;left:154.70px;">27</div>
<div class="t" style="top:412.00px;font-size:7.35px;font-weight:bold;-webkit-text-stroke:0.1px currentColor;left:203.80px;">885</div>
<div class="t" style="top:412.00px;font-size:7.35px;font-weight:bold;-webkit-text-stroke:0.1px currentColor;left:239.50px;">22</div>
<div class="t" style="top:412.00px;font-size:7.35px;font-weight:bold;-webkit-text-stroke:0.1px currentColor;left:272.50px;">885</div>
<div class="t" style="top:412.00px;font-size:7.35px;font-weight:bold;-webkit-text-stroke:0.1px currentColor;left:420.30px;">1.11</div>
<div class="t" style="top:412.00px;font-size:7.35px;font-weight:bold;-webkit-text-stroke:0.1px currentColor;left:441.60px;">[0.64-1.92]</div>
<div class="t" style="top:412.00px;font-size:7.35px;font-weight:bold;-webkit-text-stroke:0.1px currentColor;right:9.60px;">100.0 %</div>
<div class="t" style="top:422.00px;font-size:6.4px;color:#333;left:20.50px;letter-spacing:-0.17px;">Heterogeneity: tau<sup>2</sup>=0, chi<sup>2</sup>=1.98, df=5 (P=0.85), I<sup>2</sup>=0%</div>
<div class="t" style="top:430.00px;font-size:6.4px;color:#333;left:20.50px;letter-spacing:-0.24px;">Test for subgroup differences: chi<sup>2</sup>=0.36, df=1 (P=0.55)</div>
<div class="t" style="top:437.00px;font-size:6.9px;color:#1a1a1a;left:307.20px;transform:translateX(-50%);letter-spacing:0.22px;">0.10</div>
<div class="t" style="top:437.00px;font-size:6.9px;color:#1a1a1a;left:328.09px;transform:translateX(-50%);letter-spacing:0.22px;">0.25</div>
<div class="t" style="top:437.00px;font-size:6.9px;color:#1a1a1a;left:343.90px;transform:translateX(-50%);letter-spacing:0.22px;">0.50</div>
<div class="t" style="top:437.00px;font-size:6.9px;color:#1a1a1a;left:359.70px;transform:translateX(-50%);letter-spacing:0.22px;">1.0</div>
<div class="t" style="top:437.00px;font-size:6.9px;color:#1a1a1a;left:375.50px;transform:translateX(-50%);letter-spacing:0.22px;">2.0</div>
<div class="t" style="top:437.00px;font-size:6.9px;color:#1a1a1a;left:396.40px;transform:translateX(-50%);letter-spacing:0.22px;">5.0</div>
<div class="t" style="top:437.00px;font-size:6.9px;color:#1a1a1a;left:412.20px;transform:translateX(-50%);letter-spacing:0.22px;">10.0</div>
<div class="t" style="top:447.00px;font-size:9.5px;color:#111;left:307.20px;transform-origin:0 0;transform:scaleX(0.69);-webkit-text-stroke:0.2px #111;">Favors prophylaxis</div>
<div class="t" style="top:447.00px;font-size:9.5px;color:#111;left:366.60px;transform-origin:0 0;transform:scaleX(0.695);-webkit-text-stroke:0.2px #111;">Favors control</div>
<div class="t" style="top:473.00px;font-size:12.6px;font-weight:bold;-webkit-text-stroke:0.25px currentColor;left:6.80px;">C</div>
<div class="t" style="top:475.00px;font-size:9.85px;font-weight:bold;-webkit-text-stroke:0.25px currentColor;left:20.80px;">Mortality</div>
<div class="t" style="top:490.00px;font-size:7.1px;font-weight:bold;-webkit-text-stroke:0.1px currentColor;left:154.70px;">Prophylaxis</div>
<div class="t" style="top:490.00px;font-size:7.1px;font-weight:bold;-webkit-text-stroke:0.1px currentColor;left:239.50px;">Control</div>
<div class="t" style="top:500.00px;font-size:7.1px;font-weight:bold;-webkit-text-stroke:0.1px currentColor;left:20.40px;">Study</div>
<div class="t" style="top:500.00px;font-size:7.1px;font-weight:bold;-webkit-text-stroke:0.1px currentColor;left:106.70px;">Agent</div>
<div class="t" style="top:500.00px;font-size:7.1px;font-weight:bold;-webkit-text-stroke:0.1px currentColor;left:154.70px;">Events</div>
<div class="t" style="top:500.00px;font-size:7.1px;font-weight:bold;-webkit-text-stroke:0.1px currentColor;left:203.80px;">Patients</div>
<div class="t" style="top:500.00px;font-size:7.1px;font-weight:bold;-webkit-text-stroke:0.1px currentColor;left:239.50px;">Events</div>
<div class="t" style="top:500.00px;font-size:7.1px;font-weight:bold;-webkit-text-stroke:0.1px currentColor;left:272.50px;">Patients</div>
<div class="t" style="top:500.00px;font-size:7.1px;font-weight:bold;-webkit-text-stroke:0.1px currentColor;left:420.30px;">RR</div>
<div class="t" style="top:500.00px;font-size:7.1px;font-weight:bold;-webkit-text-stroke:0.1px currentColor;left:441.60px;">95%-CI</div>
<div class="t" style="top:500.00px;font-size:7.1px;font-weight:bold;-webkit-text-stroke:0.1px currentColor;right:10.80px;">Weight</div>
<div class="t" style="top:518.00px;font-size:7.1px;font-weight:bold;-webkit-text-stroke:0.1px currentColor;left:20.40px;">LMWH</div>
<div class="t" style="top:526.00px;font-size:7.35px;color:#111;left:20.40px;letter-spacing:-0.05px;">FRAGMATIC (2016)</div>
<div class="t" style="top:526.00px;font-size:7.35px;color:#111;left:106.70px;letter-spacing:-0.26px;">Dalteparin</div>
<div class="t" style="top:526.00px;font-size:7.35px;color:#111;left:154.70px;letter-spacing:-0.05px;">108</div>
<div class="t" style="top:526.00px;font-size:7.35px;color:#111;left:203.80px;letter-spacing:-0.05px;">265</div>
<div class="t" style="top:526.00px;font-size:7.35px;color:#111;left:239.50px;letter-spacing:-0.05px;">124</div>
<div class="t" style="top:526.00px;font-size:7.35px;color:#111;left:272.50px;letter-spacing:-0.05px;">302</div>
<div class="t" style="top:526.00px;font-size:7.35px;color:#111;left:420.30px;letter-spacing:-0.05px;">0.99</div>
<div class="t" style="top:526.00px;font-size:7.35px;color:#111;left:441.60px;letter-spacing:-0.05px;">[0.81-1.21]</div>
<div class="t" style="top:526.00px;font-size:7.35px;color:#111;right:10.80px;">44.7 %</div>
<div class="t" style="top:535.00px;font-size:7.35px;color:#111;left:20.40px;letter-spacing:-0.05px;">CONKO-004 (2015)</div>
<div class="t" style="top:535.00px;font-size:7.35px;color:#111;left:106.70px;letter-spacing:-0.26px;">Enoxaparin</div>
<div class="t" style="top:535.00px;font-size:7.35px;color:#111;left:154.70px;letter-spacing:-0.05px;">34</div>
<div class="t" style="top:535.00px;font-size:7.35px;color:#111;left:203.80px;letter-spacing:-0.05px;">105</div>
<div class="t" style="top:535.00px;font-size:7.35px;color:#111;left:239.50px;letter-spacing:-0.05px;">24</div>
<div class="t" style="top:535.00px;font-size:7.35px;color:#111;left:272.50px;letter-spacing:-0.05px;">89</div>
<div class="t" style="top:535.00px;font-size:7.35px;color:#111;left:420.30px;letter-spacing:-0.05px;">1.20</div>
<div class="t" style="top:535.00px;font-size:7.35px;color:#111;left:441.60px;letter-spacing:-0.05px;">[0.77-1.86]</div>
<div class="t" style="top:535.00px;font-size:7.35px;color:#111;right:10.80px;">16.5 %</div>
<div class="t" style="top:545.00px;font-size:7.35px;color:#111;left:20.40px;letter-spacing:-0.05px;">ABEL (2013)</div>
<div class="t" style="top:545.00px;font-size:7.35px;color:#111;left:106.70px;letter-spacing:-0.26px;">Bemiparin</div>
<div class="t" style="top:545.00px;font-size:7.35px;color:#111;left:154.70px;letter-spacing:-0.05px;">0</div>
<div class="t" style="top:545.00px;font-size:7.35px;color:#111;left:203.80px;letter-spacing:-0.05px;">2</div>
<div class="t" style="top:545.00px;font-size:7.35px;color:#111;left:239.50px;letter-spacing:-0.05px;">1</div>
<div class="t" style="top:545.00px;font-size:7.35px;color:#111;left:272.50px;letter-spacing:-0.05px;">2</div>
<div class="t" style="top:545.00px;font-size:7.35px;color:#111;left:420.30px;letter-spacing:-0.05px;">0.33</div>
<div class="t" style="top:545.00px;font-size:7.35px;color:#111;left:441.60px;letter-spacing:-0.05px;">[0.02-5.33]</div>
<div class="t" style="top:545.00px;font-size:7.35px;color:#111;right:10.80px;">0.5 %</div>
<div class="t" style="top:554.00px;font-size:7.35px;color:#111;left:20.40px;letter-spacing:-0.05px;">SAVE-ONCO (2012)</div>
<div class="t" style="top:554.00px;font-size:7.35px;color:#111;left:106.70px;letter-spacing:-0.26px;">Semuloparin</div>
<div class="t" style="top:554.00px;font-size:7.35px;color:#111;left:154.70px;letter-spacing:-0.05px;">81</div>
<div class="t" style="top:554.00px;font-size:7.35px;color:#111;left:203.80px;letter-spacing:-0.05px;">280</div>
<div class="t" style="top:554.00px;font-size:7.35px;color:#111;left:239.50px;letter-spacing:-0.05px;">111</div>
<div class="t" style="top:554.00px;font-size:7.35px;color:#111;left:272.50px;letter-spacing:-0.05px;">281</div>
<div class="t" style="top:554.00px;font-size:7.35px;color:#111;left:420.30px;letter-spacing:-0.05px;">0.73</div>
<div class="t" style="top:554.00px;font-size:7.35px;color:#111;left:441.60px;letter-spacing:-0.05px;">[0.58-0.93]</div>
<div class="t" style="top:554.00px;font-size:7.35px;color:#111;right:10.80px;">38.2 %</div>
<div class="t" style="top:564.00px;font-size:7.1px;font-weight:bold;-webkit-text-stroke:0.1px currentColor;left:20.40px;">Random effects model</div>
<div class="t" style="top:563.00px;font-size:7.35px;font-weight:bold;-webkit-text-stroke:0.1px currentColor;left:154.70px;">223</div>
<div class="t" style="top:563.00px;font-size:7.35px;font-weight:bold;-webkit-text-stroke:0.1px currentColor;left:203.80px;">652</div>
<div class="t" style="top:563.00px;font-size:7.35px;font-weight:bold;-webkit-text-stroke:0.1px currentColor;left:239.50px;">260</div>
<div class="t" style="top:563.00px;font-size:7.35px;font-weight:bold;-webkit-text-stroke:0.1px currentColor;left:272.50px;">674</div>
<div class="t" style="top:563.00px;font-size:7.35px;font-weight:bold;-webkit-text-stroke:0.1px currentColor;left:420.30px;">0.91</div>
<div class="t" style="top:563.00px;font-size:7.35px;font-weight:bold;-webkit-text-stroke:0.1px currentColor;left:441.60px;">[0.68-1.24]</div>
<div class="t" style="top:563.00px;font-size:7.35px;font-weight:bold;-webkit-text-stroke:0.1px currentColor;right:9.60px;">100.0 %</div>
<div class="t" style="top:573.00px;font-size:6.4px;color:#333;left:20.50px;letter-spacing:-0.17px;">Heterogeneity: tau<sup>2</sup>=0.0132, chi<sup>2</sup>=6.10, df=3 (P=0.11), I<sup>2</sup>=51%</div>
<div class="t" style="top:587.00px;font-size:6.9px;color:#1a1a1a;left:307.20px;transform:translateX(-50%);letter-spacing:0.22px;">0.10</div>
<div class="t" style="top:587.00px;font-size:6.9px;color:#1a1a1a;left:328.09px;transform:translateX(-50%);letter-spacing:0.22px;">0.25</div>
<div class="t" style="top:587.00px;font-size:6.9px;color:#1a1a1a;left:343.90px;transform:translateX(-50%);letter-spacing:0.22px;">0.50</div>
<div class="t" style="top:587.00px;font-size:6.9px;color:#1a1a1a;left:359.70px;transform:translateX(-50%);letter-spacing:0.22px;">1.0</div>
<div class="t" style="top:587.00px;font-size:6.9px;color:#1a1a1a;left:375.50px;transform:translateX(-50%);letter-spacing:0.22px;">2.0</div>
<div class="t" style="top:587.00px;font-size:6.9px;color:#1a1a1a;left:396.40px;transform:translateX(-50%);letter-spacing:0.22px;">5.0</div>
<div class="t" style="top:587.00px;font-size:6.9px;color:#1a1a1a;left:412.20px;transform:translateX(-50%);letter-spacing:0.22px;">10.0</div>
<div class="t" style="top:597.00px;font-size:9.5px;color:#111;left:306.10px;transform-origin:0 0;transform:scaleX(0.69);-webkit-text-stroke:0.2px #111;">Favors prophylaxis</div>
<div class="t" style="top:597.00px;font-size:9.5px;color:#111;left:365.50px;transform-origin:0 0;transform:scaleX(0.695);-webkit-text-stroke:0.2px #111;">Favors control</div>
</body></html>
